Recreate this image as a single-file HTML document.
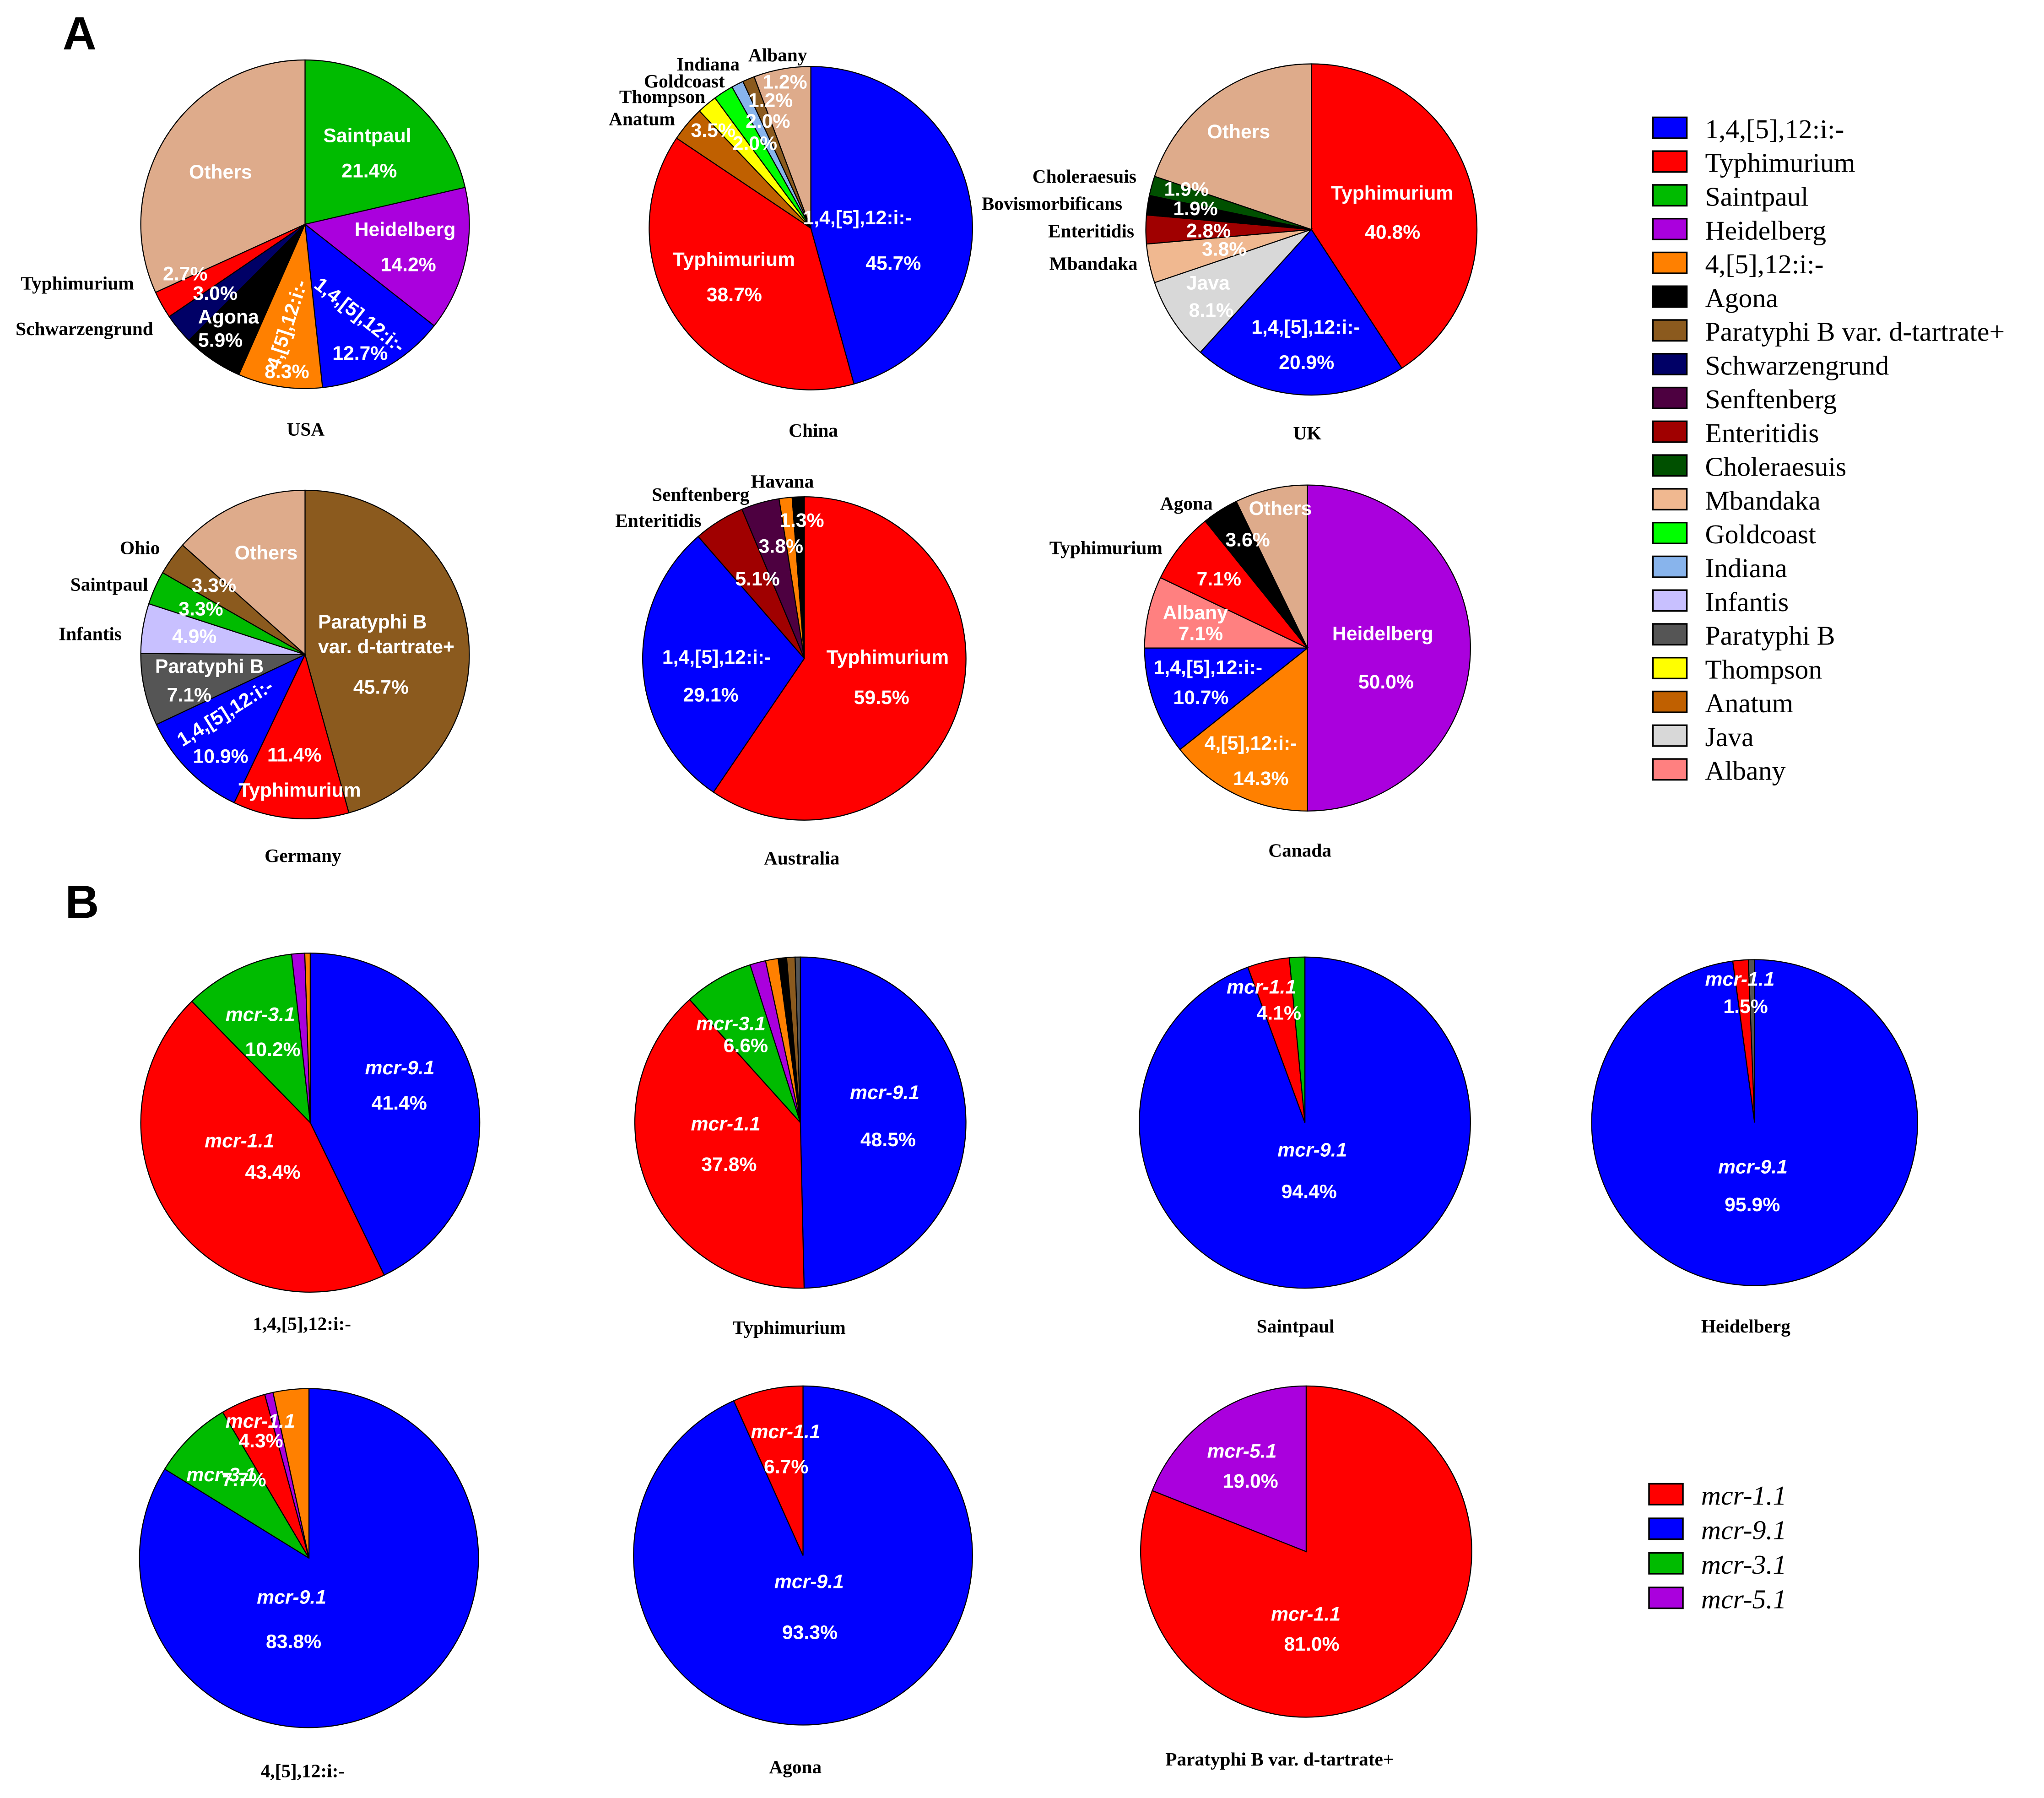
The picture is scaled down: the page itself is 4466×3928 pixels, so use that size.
<!DOCTYPE html>
<html><head><meta charset="utf-8"><style>
html,body{margin:0;padding:0;background:#fff}
svg{display:block}
.w{font-family:"Liberation Sans",sans-serif;font-weight:bold;fill:#fff;font-size:15px}
.k{font-family:"Liberation Serif",serif;font-weight:bold;fill:#000;font-size:14.5px}
.lg{font-family:"Liberation Serif",serif;fill:#000;font-size:21px}
</style></head><body>
<svg id="c" width="4466" height="3928" viewBox="0 0 1568 1379" preserveAspectRatio="none" xmlns="http://www.w3.org/2000/svg">
<text x="48" y="38" font-family="Liberation Sans,sans-serif" font-weight="bold" font-size="36">A</text>
<text x="50" y="704" font-family="Liberation Sans,sans-serif" font-weight="bold" font-size="36">B</text>
<g id="pies"></g>
<g id="labels"></g>
<g id="legend"></g>
<text class="w" transform="translate(240,220) rotate(38)">1,4,[5],12:i:-</text>
<text class="w" transform="translate(214,284) rotate(-72)">4,[5],12:i:-</text>
<text class="w" transform="translate(140,573) rotate(-32)">1,4,[5],12:i:-</text>
</svg>
<script>
const C={blue:"#0000ff",red:"#ff0000",sp:"#00bb00",hb:"#aa00dd",or:"#ff8000",bk:"#000000",br:"#8b5a1e",nv:"#000066",sf:"#4d0040",en:"#a00000",ch:"#005000",mb:"#f0b890",gc:"#00ff00",in:"#88b4ec",inf:"#c8c0ff",pb:"#555555",th:"#ffff00",an:"#c06000",jv:"#d8d8d8",al:"#ff8080",ot:"#deab8b"};
const usaVals=[21.4,14.2,12.7,8.3,5.9,3.0,2.7,31.8];
const usaCols=["sp","hb","blue","or","bk","nv","red","ot"];
const chinaVals=[45.7,38.7,3.5,2.0,2.0,1.2,1.2,5.7];
const chinaCols=["blue","red","an","th","gc","in","br","ot"];
const ukVals=[40.8,20.9,8.1,3.8,2.8,1.9,1.9,19.8];
const ukCols=["red","blue","jv","mb","en","bk","ch","ot"];
const deVals=[45.7,11.4,10.9,7.1,4.9,3.3,3.3,13.4];
const deCols=["br","red","blue","pb","inf","sp","br","ot"];
const auVals=[59.5,29.1,5.1,3.8,1.3,1.2];
const auCols=["red","blue","en","sf","or","bk"];
const caVals=[50.0,14.3,10.7,7.1,7.1,3.6,7.2];
const caCols=["hb","or","blue","al","red","bk","ot"];
const b1Vals=[41.4,43.4,10.2,1.2,0.5];
const b1Cols=["blue","red","sp","hb","or"];
const b2Vals=[48.5,37.8,6.6,1.5,1.2,0.8,0.8,0.5];
const b2Cols=["blue","red","sp","hb","or","bk","br","pb"];
const b3Vals=[94.4,4.1,1.5];
const b3Cols=["blue","red","sp"];
const b4Vals=[95.9,1.5,0.6];
const b4Cols=["blue","red","pb"];
const b5Vals=[83.8,7.7,4.3,0.8,3.4];
const b5Cols=["blue","sp","red","hb","or"];
const b6Vals=[93.3,6.7];
const b6Cols=["blue","red"];
const b7Vals=[81.0,19.0];
const b7Cols=["red","hb"];
const pies=[
 ["usa",234,172,126,usaVals,usaCols],["china",622,175,124,chinaVals,chinaCols],["uk",1006,176,127,ukVals,ukCols],
 ["germany",234,502,126,deVals,deCols],["australia",617,505,124,auVals,auCols],["canada",1003,497,125,caVals,caCols],
 ["b-1-4-5-12",238,861,130,b1Vals,b1Cols],["b-typhimurium",614,861,127,b2Vals,b2Cols],["b-saintpaul",1001,861,127,b3Vals,b3Cols],["b-heidelberg",1346,861,125,b4Vals,b4Cols],
 ["b-4-5-12",237,1195,130,b5Vals,b5Cols],["b-agona",616,1193,130,b6Vals,b6Cols],["b-paratyphi",1002,1190,127,b7Vals,b7Cols]];
const NS="http://www.w3.org/2000/svg";
const gp=document.getElementById("pies");
function pt(cx,cy,r,a){return [cx+r*Math.sin(a),cy-r*Math.cos(a)];}
pies.forEach(p=>{
 const [nm,cx,cy,r,vals,cols]=p;const tot=vals.reduce((a,b)=>a+b,0);let a0=0;
 vals.forEach((v,i)=>{
  const a1=a0+v/tot*2*Math.PI;const s=pt(cx,cy,r,a0),e=pt(cx,cy,r,a1);
  const el=document.createElementNS(NS,"path");
  el.setAttribute("d",`M${cx},${cy}L${s[0]},${s[1]}A${r},${r} 0 ${a1-a0>Math.PI?1:0} 1 ${e[0]},${e[1]}Z`);
  el.setAttribute("fill",C[cols[i]]);el.setAttribute("stroke","#000");el.setAttribute("stroke-width","0.8");
  
  
  gp.appendChild(el);a0=a1;});
});
const W=[
[248,109,"Saintpaul"],[262,136,"21.4%"],[145,137,"Others"],[272,181,"Heidelberg"],[292,208,"14.2%"],[255,276,"12.7%"],[125,215,"2.7%"],[148,230,"3.0%"],[152,248,"Agona"],[152,266,"5.9%"],[203,290,"8.3%"],
[616,172,"1,4,[5],12:i:-"],[664,207,"45.7%"],[516,204,"Typhimurium"],[542,231,"38.7%"],[530,105,"3.5%"],[562,115,"2.0%"],[572,98,"2.0%"],[574,82,"1.2%"],[585,68,"1.2%"],
[926,106,"Others"],[1021,153,"Typhimurium"],[1047,183,"40.8%"],[960,256,"1,4,[5],12:i:-"],[981,283,"20.9%"],[910,222,"Java"],[912,243,"8.1%"],[922,196,"3.8%"],[910,182,"2.8%"],[900,165,"1.9%"],[893,150,"1.9%"],
[244,482,"Paratyphi B"],[244,501,"var. d-tartrate+"],[271,532,"45.7%"],[180,429,"Others"],[147,454,"3.3%"],[137,472,"3.3%"],[132,493,"4.9%"],[119,516,"Paratyphi B"],[128,538,"7.1%"],[148,585,"10.9%"],[205,584,"11.4%"],[183,611,"Typhimurium"],
[634,509,"Typhimurium"],[655,540,"59.5%"],[508,509,"1,4,[5],12:i:-"],[524,538,"29.1%"],[564,449,"5.1%"],[582,424,"3.8%"],[598,404,"1.3%"],
[1022,491,"Heidelberg"],[1042,528,"50.0%"],[958,395,"Others"],[940,419,"3.6%"],[918,449,"7.1%"],[892,475,"Albany"],[904,491,"7.1%"],[885,517,"1,4,[5],12:i:-"],[900,540,"10.7%"],[924,575,"4,[5],12:i:-"],[946,602,"14.3%"],
[285,851,"41.4%"],[188,904,"43.4%"],[188,810,"10.2%"],[660,879,"48.5%"],[538,898,"37.8%"],[555,807,"6.6%"],[983,919,"94.4%"],[964,782,"4.1%"],[1323,929,"95.9%"],[1322,777,"1.5%"],
[204,1264,"83.8%"],[170,1140,"7.7%"],[183,1110,"4.3%"],[600,1257,"93.3%"],[586,1130,"6.7%"],[938,1141,"19.0%"],[985,1266,"81.0%"]];
const I=[[280,824,"mcr-9.1"],[157,880,"mcr-1.1"],[173,783,"mcr-3.1"],[652,843,"mcr-9.1"],[530,867,"mcr-1.1"],[534,790,"mcr-3.1"],[980,887,"mcr-9.1"],[941,762,"mcr-1.1"],[1318,900,"mcr-9.1"],[1308,756,"mcr-1.1"],
[197,1230,"mcr-9.1"],[143,1136,"mcr-3.1"],[173,1095,"mcr-1.1"],[594,1218,"mcr-9.1"],[576,1103,"mcr-1.1"],[926,1118,"mcr-5.1"],[975,1243,"mcr-1.1"]];
const K=[[220,334,"USA"],[605,335,"China"],[992,337,"UK"],[203,661,"Germany"],[586,663,"Australia"],[973,657,"Canada"],
[16,222,"Typhimurium"],[12,257,"Schwarzengrund"],[519,54,"Indiana"],[574,47,"Albany"],[494,67,"Goldcoast"],[475,79,"Thompson"],[467,96,"Anatum"],
[792,140,"Choleraesuis"],[753,161,"Bovismorbificans"],[804,182,"Enteritidis"],[805,207,"Mbandaka"],
[92,425,"Ohio"],[54,453,"Saintpaul"],[45,491,"Infantis"],[500,384,"Senftenberg"],[576,374,"Havana"],[472,404,"Enteritidis"],[890,391,"Agona"],[805,425,"Typhimurium"],
[194,1020,"1,4,[5],12:i:-"],[562,1023,"Typhimurium"],[964,1022,"Saintpaul"],[1305,1022,"Heidelberg"],[200,1363,"4,[5],12:i:-"],[590,1360,"Agona"],[894,1354,"Paratyphi B var. d-tartrate+"]];
const gl=document.getElementById("labels");
function T(x,y,s,cls,it){const t=document.createElementNS(NS,"text");t.setAttribute("x",x);t.setAttribute("y",y);t.setAttribute("class",cls);if(it)t.setAttribute("font-style","italic");t.textContent=s;
 
 
 gl.appendChild(t);return t;}
W.forEach(a=>T(a[0],a[1],a[2],"w"));I.forEach(a=>T(a[0],a[1],a[2],"w",1));K.forEach(a=>T(a[0],a[1],a[2],"k"));
const legNames=["1,4,[5],12:i:-","Typhimurium","Saintpaul","Heidelberg","4,[5],12:i:-","Agona","Paratyphi B var. d-tartrate+","Schwarzengrund","Senftenberg","Enteritidis","Choleraesuis","Mbandaka","Goldcoast","Indiana","Infantis","Paratyphi B","Thompson","Anatum","Java","Albany"];
const legCols=["blue","red","sp","hb","or","bk","br","nv","sf","en","ch","mb","gc","in","inf","pb","th","an","jv","al"];
const leg2Names=["mcr-1.1","mcr-9.1","mcr-3.1","mcr-5.1"];
const leg2Cols=["red","blue","sp","hb"];
const lg=document.getElementById("legend");
function L(x,y,col,name,it){const r=document.createElementNS(NS,"rect");r.setAttribute("x",x);r.setAttribute("y",y-14);r.setAttribute("width",26);r.setAttribute("height",16);r.setAttribute("fill",C[col]);r.setAttribute("stroke","#000");r.setAttribute("stroke-width","1.2");
 
 
 lg.appendChild(r);const t=document.createElementNS(NS,"text");t.setAttribute("x",x+40);t.setAttribute("y",y+2);t.setAttribute("class","lg");if(it)t.setAttribute("font-style","italic");t.textContent=name;
 
 
 lg.appendChild(t);}
legNames.forEach((n,i)=>L(1268,104+i*25.9,legCols[i],n));
leg2Names.forEach((n,i)=>L(1265,1152+i*26.5,leg2Cols[i],n,1));
</script>
</body></html>
